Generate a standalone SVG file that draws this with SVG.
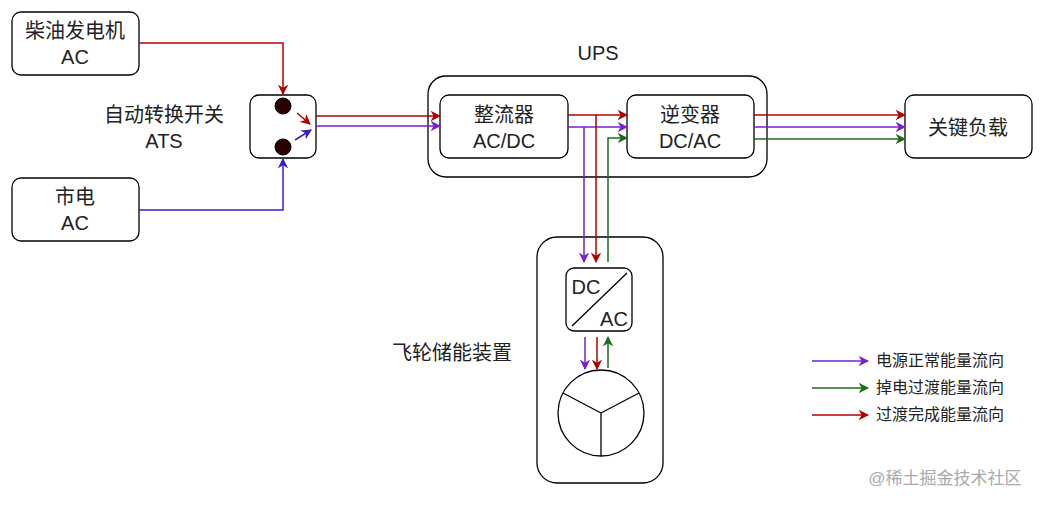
<svg xmlns="http://www.w3.org/2000/svg" width="1041" height="505" viewBox="0 0 1041 505">
<style>
.b{fill:#fff;stroke:#000;stroke-width:1.3}
text{font-family:"Liberation Sans","Noto Sans CJK SC",sans-serif;font-size:20px;fill:#222;text-anchor:middle}
.l{fill:none;stroke-width:1.5}
.r{stroke:#b20000}.p{stroke:#7a1fd0}.g{stroke:#1e6b1e}.u{stroke:#3322cc}
.lg{font-size:16px;text-anchor:start}
</style>
<defs>
<marker id="mr" viewBox="0 0 10 10" refX="9" refY="5" markerWidth="7" markerHeight="7" orient="auto"><path d="M0,0L10,5L0,10L3,5z" fill="#b20000"/></marker>
<marker id="mp" viewBox="0 0 10 10" refX="9" refY="5" markerWidth="7" markerHeight="7" orient="auto"><path d="M0,0L10,5L0,10L3,5z" fill="#7a1fd0"/></marker>
<marker id="mg" viewBox="0 0 10 10" refX="9" refY="5" markerWidth="7" markerHeight="7" orient="auto"><path d="M0,0L10,5L0,10L3,5z" fill="#1e6b1e"/></marker>
<marker id="mu" viewBox="0 0 10 10" refX="9" refY="5" markerWidth="7" markerHeight="7" orient="auto"><path d="M0,0L10,5L0,10L3,5z" fill="#3322cc"/></marker>
</defs>
<g id="diesel"><rect class="b" x="12" y="12" width="127" height="63" rx="9"/><text x="75" y="38">柴油发电机</text><text x="75" y="64">AC</text></g>
<g id="mains"><rect class="b" x="12" y="178" width="127" height="63" rx="9"/><text x="75" y="204">市电</text><text x="75" y="230">AC</text></g>
<g id="ats"><rect class="b" x="250" y="95" width="66" height="63" rx="9"/><circle cx="283" cy="106" r="8" fill="#2a0000" stroke="#000"/><circle cx="283" cy="147" r="8" fill="#2a0000" stroke="#000"/>
<text x="164" y="122">自动转换开关</text><text x="164" y="148">ATS</text></g>
<g id="ups"><rect class="b" x="428" y="76" width="339" height="101" rx="18"/><text x="598" y="60">UPS</text></g>
<g id="rect"><rect class="b" x="440" y="95" width="128" height="63" rx="9"/><text x="504" y="122">整流器</text><text x="504" y="148">AC/DC</text></g>
<g id="inv"><rect class="b" x="627" y="95" width="127" height="63" rx="9"/><text x="690" y="122">逆变器</text><text x="690" y="148">DC/AC</text></g>
<g id="load"><rect class="b" x="905" y="95" width="127" height="63" rx="9"/><text x="968" y="135">关键负载</text></g>
<g id="flywheel"><rect class="b" x="537" y="237" width="126" height="246" rx="20"/><text x="452" y="360">飞轮储能装置</text>
<rect class="b" x="566" y="268" width="66" height="63" rx="8"/><line x1="572" y1="326" x2="627" y2="273" stroke="#000" stroke-width="1.3"/>
<text x="586" y="294">DC</text><text x="614" y="326">AC</text>
<circle class="b" cx="601" cy="413" r="43"/><path d="M601,413L563,393M601,413L639,393M601,413L601,456" stroke="#000" stroke-width="1.3" fill="none"/></g>
<g id="connectors">
<path class="l r" d="M139,43H283V94" marker-end="url(#mr)"/>
<path class="l u" d="M139,210H283V159" marker-end="url(#mu)"/>
<path class="l r" d="M297,113L310,124" marker-end="url(#mr)"/>
<path class="l u" d="M295,140L311,130" marker-end="url(#mu)"/>
<path class="l r" d="M316,116H440" marker-end="url(#mr)"/>
<path class="l p" d="M316,126H440" marker-end="url(#mp)"/>
<path class="l r" d="M568,115H627" marker-end="url(#mr)"/>
<path class="l p" d="M568,127H627" marker-end="url(#mp)"/>
<path class="l g" d="M608,262V138H627" marker-end="url(#mg)"/>
<path class="l p" d="M584,127V262" marker-end="url(#mp)"/>
<path class="l r" d="M596,115V262" marker-end="url(#mr)"/>
<path class="l r" d="M754,115H905" marker-end="url(#mr)"/>
<path class="l p" d="M754,127H905" marker-end="url(#mp)"/>
<path class="l g" d="M754,139H905" marker-end="url(#mg)"/>
<path class="l p" d="M585,337V369" marker-end="url(#mp)"/>
<path class="l r" d="M597,337V369" marker-end="url(#mr)"/>
<path class="l g" d="M608,368V337" marker-end="url(#mg)"/>
</g>
<g id="legend">
<path class="l p" d="M812,361H868" marker-end="url(#mp)"/><text class="lg" x="876" y="366">电源正常能量流向</text>
<path class="l g" d="M812,388H868" marker-end="url(#mg)"/><text class="lg" x="876" y="393">掉电过渡能量流向</text>
<path class="l r" d="M812,415H868" marker-end="url(#mr)"/><text class="lg" x="876" y="420">过渡完成能量流向</text>
</g>
<text x="945" y="484" style="font-size:17px;fill:#aaa">@稀土掘金技术社区</text>
</svg>
